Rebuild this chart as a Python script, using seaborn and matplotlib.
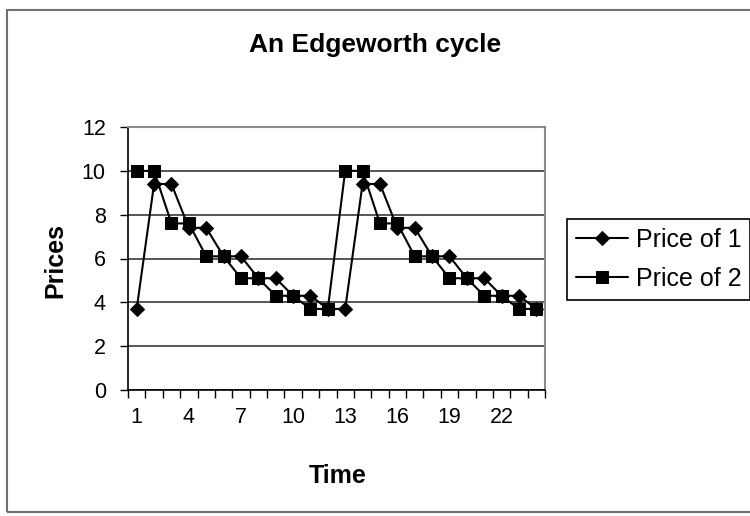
import numpy as np
import pandas as pd
import seaborn as sns
import matplotlib.pyplot as plt
from matplotlib.patches import Rectangle

# DATA
time = list(range(1, 25))
price_1 = [3.7, 9.4, 9.4, 7.4, 7.4, 6.1, 6.1, 5.1, 5.1, 4.3, 4.3, 3.7,
           3.7, 9.4, 9.4, 7.4, 7.4, 6.1, 6.1, 5.1, 5.1, 4.3, 4.3, 3.7]
price_2 = [10, 10, 7.6, 7.6, 6.1, 6.1, 5.1, 5.1, 4.3, 4.3, 3.7, 3.7,
           10, 10, 7.6, 7.6, 6.1, 6.1, 5.1, 5.1, 4.3, 4.3, 3.7, 3.7]
y_ticks = [0, 2, 4, 6, 8, 10, 12]
x_labels = [1, 4, 7, 10, 13, 16, 19, 22]

df = pd.DataFrame({"Time": time, "Price of 1": price_1, "Price of 2": price_2})

sns.set_style("white")
plt.rcParams["font.family"] = ["Liberation Sans", "DejaVu Sans"]
plt.rcParams["text.color"] = "black"
plt.rcParams["axes.labelcolor"] = "black"
plt.rcParams["xtick.color"] = "black"
plt.rcParams["ytick.color"] = "black"

fig = plt.figure(figsize=(7.5, 5.16), dpi=100)
ax = fig.add_axes([128 / 750, 1 - 390 / 516, 417 / 750, 263 / 516])

sns.lineplot(data=df, x="Time", y="Price of 1", ax=ax, color="black", lw=1.5,
             marker="D", markersize=7.5, markeredgecolor="black", label="Price of 1")
sns.lineplot(data=df, x="Time", y="Price of 2", ax=ax, color="black", lw=1.5,
             marker="s", markersize=8, markeredgecolor="black", label="Price of 2")

#AXES
ax.set_xlim(0.5, 24.5)
ax.set_ylim(0, 12)
ax.set_yticks(y_ticks)
ax.set_xticks(x_labels)
ax.set_xticks(np.arange(0.5, 25, 1), minor=True)
ax.tick_params(axis="x", which="major", length=0, pad=12, labelsize=15.5)
ax.tick_params(axis="x", which="minor", length=6, width=1, direction="out",
               color="black", bottom=True)
ax.tick_params(axis="y", length=6, width=1, direction="out", color="black",
               left=True, pad=10, labelsize=15.5)
ax.grid(axis="y", color="#3a3a3a", lw=1.2)
ax.grid(axis="x", visible=False)
ax.set_axisbelow(True)

for s in ["top", "right"]:
    ax.spines[s].set_color("#8a8a8a")
    ax.spines[s].set_linewidth(1.5)
for s in ["left", "bottom"]:
    ax.spines[s].set_color("black")
    ax.spines[s].set_linewidth(1.2)

ax.set_xlabel("Time", fontsize=18, fontweight="bold", va="center")
ax.xaxis.set_label_coords(0.504, -0.327)
ax.set_ylabel("Prices", fontsize=18, fontweight="bold", va="center")
ax.yaxis.set_label_coords(-0.175, 0.494)

fig.text(0.5, 1 - 45 / 516, "An Edgeworth cycle", ha="center", va="center",
         fontsize=19, fontweight="bold")

#LEGEND
ax.get_legend().remove()
leg = fig.legend(loc="center left", bbox_to_anchor=(567 / 750, 1 - 259.5 / 516),
                 fontsize=18, frameon=True, fancybox=False, edgecolor="black",
                 framealpha=1, handlelength=2.1, handletextpad=0.3,
                 labelspacing=0.6, borderpad=0.35, borderaxespad=0)
leg.get_frame().set_linewidth(1.2)

# outer chart border
fig.patches.append(Rectangle((7 / 750, 4 / 516), 1.0, 1 - 14 / 516,
                             transform=fig.transFigure, fill=False,
                             edgecolor="#707070", lw=1.5))

plt.savefig("out.png", dpi=100)
